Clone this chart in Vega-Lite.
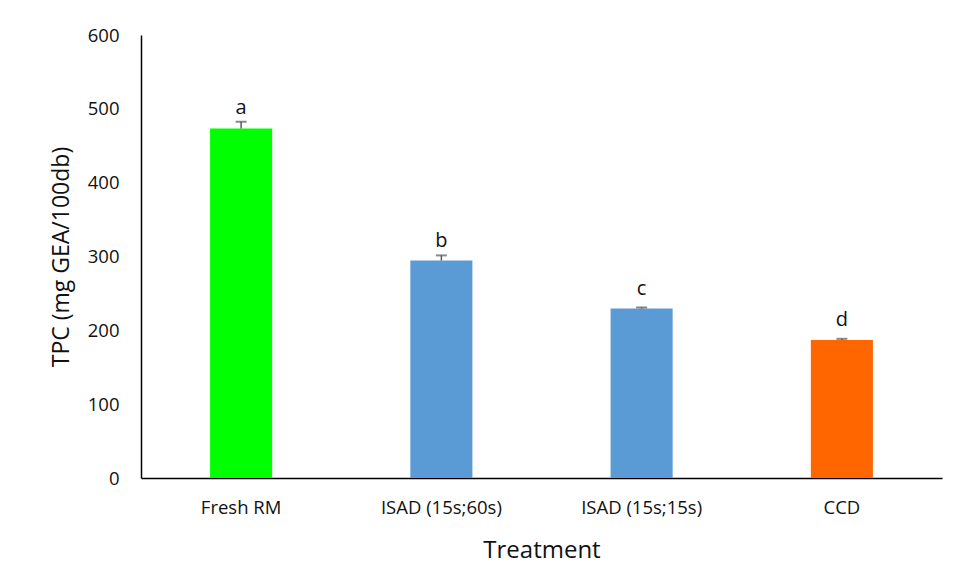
{
  "$schema": "https://vega.github.io/schema/vega-lite/v6.json",
  "width": 801,
  "height": 443,
  "autosize": "none",
  "padding": {"left": 141, "top": 35, "right": 35, "bottom": 108},
  "background": "white",
  "config": {
    "view": {"stroke": null},
    "font": "Open Sans",
    "axis": {"labelFont": "Open Sans", "titleFont": "Open Sans", "labelColor": "#111", "titleColor": "#111", "titleFontWeight": "normal", "domainColor": "#000", "domainWidth": 1.5, "grid": false, "ticks": false, "labelOverlap": false}
  },
  "data": {
    "values": [
      {"treatment": "Fresh RM", "tpc": 473.5, "err": 9, "group": "a", "kind": "fresh"},
      {"treatment": "ISAD (15s;60s)", "tpc": 294.5, "err": 7, "group": "b", "kind": "isad"},
      {"treatment": "ISAD (15s;15s)", "tpc": 229.5, "err": 1.5, "group": "c", "kind": "isad"},
      {"treatment": "CCD", "tpc": 187, "err": 1.5, "group": "d", "kind": "ccd"}
    ]
  },
  "transform": [{"calculate": "datum.tpc + datum.err", "as": "upper"}],
  "encoding": {
    "x": {
      "field": "treatment",
      "type": "nominal",
      "sort": null,
      "scale": {"paddingInner": 0.69, "paddingOuter": 0.345},
      "axis": {"title": "Treatment", "labelAngle": 0, "labelFontSize": 18.5, "labelPadding": 20, "titleFontSize": 24, "titlePadding": 22}
    }
  },
  "layer": [
    {
      "mark": {"type": "bar"},
      "encoding": {
        "y": {
          "field": "tpc",
          "type": "quantitative",
          "scale": {"domain": [0, 600]},
          "axis": {"title": "TPC (mg GEA/100db)", "values": [0, 100, 200, 300, 400, 500, 600], "labelFontSize": 18.5, "labelPadding": 22, "titleFontSize": 23, "titlePadding": 14}
        },
        "color": {
          "field": "kind",
          "type": "nominal",
          "scale": {"domain": ["fresh", "isad", "ccd"], "range": ["#00FF00", "#5B9BD5", "#FF6600"]},
          "legend": null
        }
      }
    },
    {
      "mark": {"type": "rule", "color": "#595959", "strokeWidth": 1.5},
      "encoding": {
        "y": {"field": "tpc", "type": "quantitative"},
        "y2": {"field": "upper"}
      }
    },
    {
      "mark": {"type": "tick", "color": "#595959", "size": 11, "thickness": 2, "orient": "horizontal"},
      "encoding": {
        "y": {"field": "upper", "type": "quantitative"}
      }
    },
    {
      "mark": {"type": "text", "fontSize": 20, "baseline": "alphabetic", "dy": -14, "color": "#111", "font": "Open Sans"},
      "encoding": {
        "y": {"field": "tpc", "type": "quantitative"},
        "text": {"field": "group"}
      }
    }
  ]
}
